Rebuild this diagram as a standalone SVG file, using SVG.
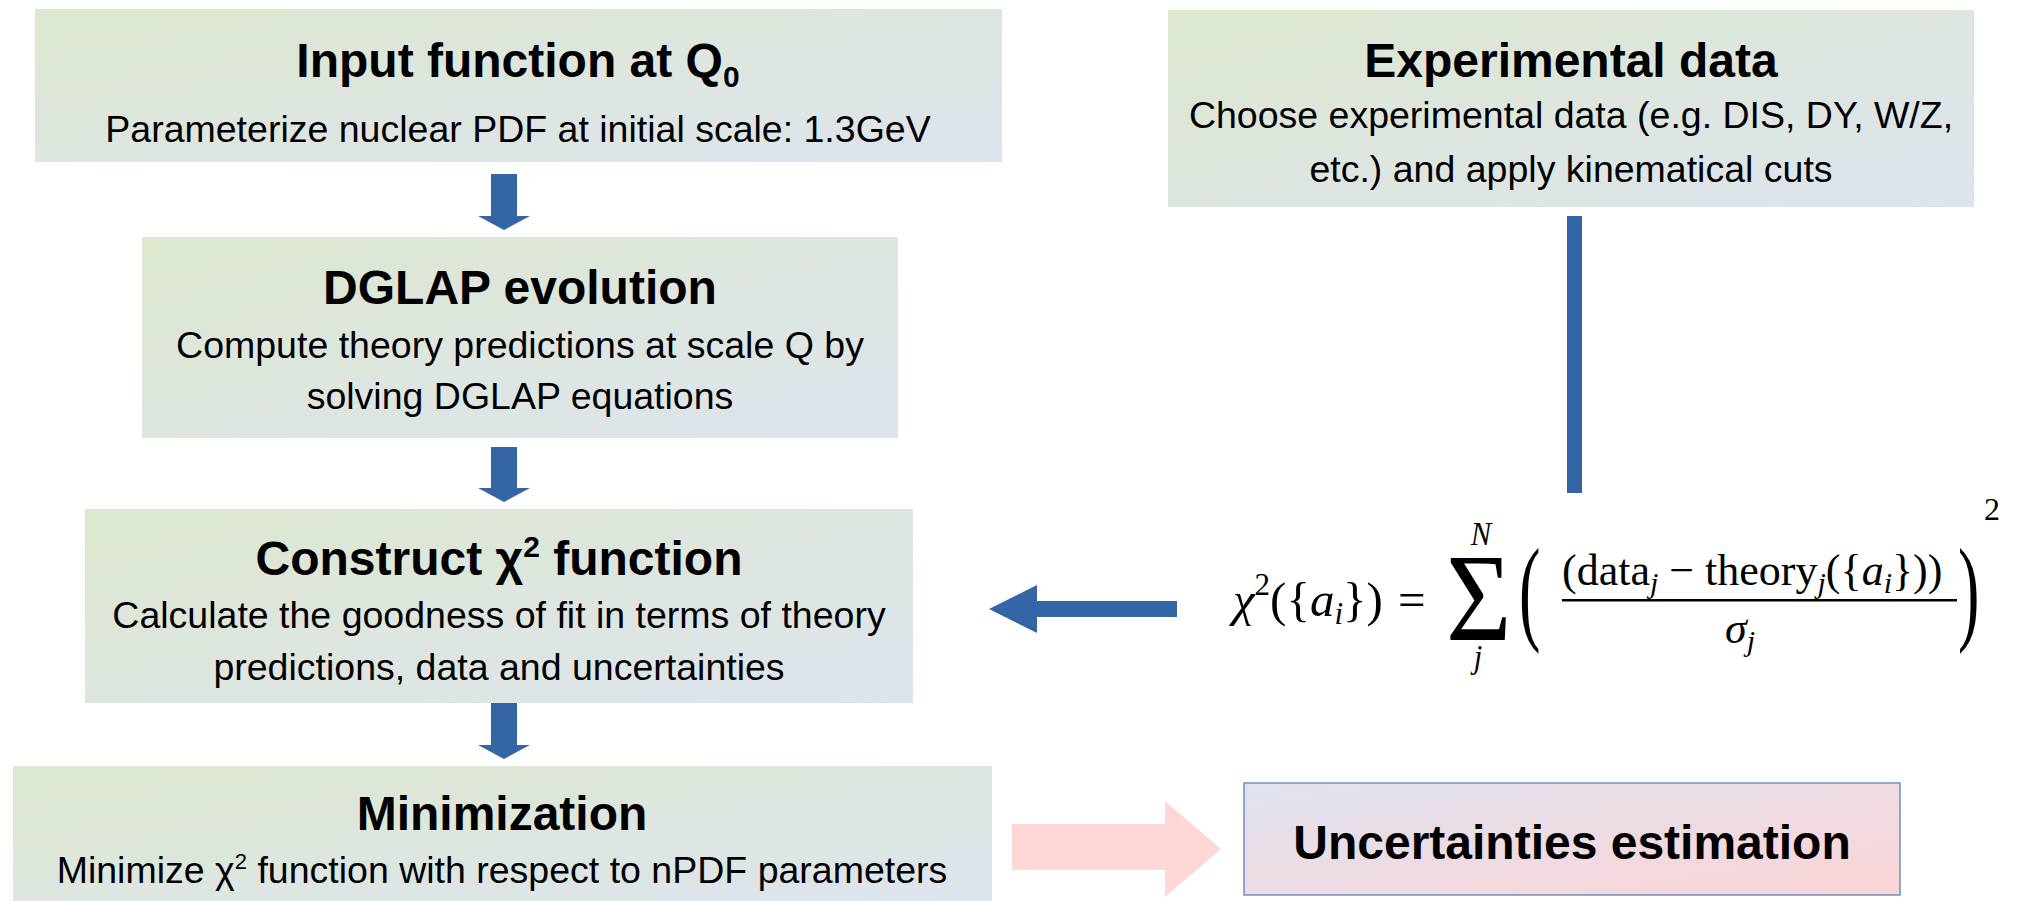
<svg xmlns="http://www.w3.org/2000/svg" width="2019" height="901" viewBox="0 0 2019 901">
<defs>
<linearGradient id="gBox" x1="0" y1="0" x2="1" y2="1">
<stop offset="0" stop-color="#dce7cd"/>
<stop offset="0.5" stop-color="#dee6df"/>
<stop offset="1" stop-color="#dde4ee"/>
</linearGradient>
<linearGradient id="gPink" x1="0" y1="0" x2="1" y2="1">
<stop offset="0" stop-color="#e0e3ef"/>
<stop offset="1" stop-color="#fbd4d6"/>
</linearGradient>
<style>
.box{fill:url(#gBox);}
.t{font-family:"Liberation Sans",Arial,sans-serif;font-weight:bold;font-size:48px;fill:#000;text-anchor:middle;}
.s{font-family:"Liberation Sans",Arial,sans-serif;font-size:37.5px;fill:#000;text-anchor:middle;}
.blue{fill:#3465a4;}
.m{font-family:"Liberation Serif","Times New Roman",serif;fill:#000;}
.mi{font-style:italic;}
</style>
</defs>
<rect width="2019" height="901" fill="#ffffff"/>

<g id="input">
<rect class="box" x="35" y="9" width="967" height="153"/>
<text class="t" x="518" y="77">Input function at Q<tspan font-size="30" dy="10">0</tspan></text>
<text class="s" x="518" y="142">Parameterize nuclear PDF at initial scale: 1.3GeV</text>
</g>

<g id="experimental">
<rect class="box" x="1168" y="10" width="806" height="197"/>
<text class="t" x="1571" y="77">Experimental data</text>
<text class="s" x="1571" y="128">Choose experimental data (e.g. DIS, DY, W/Z,</text>
<text class="s" x="1571" y="182">etc.) and apply kinematical cuts</text>
</g>

<g id="dglap">
<rect class="box" x="142" y="237" width="756" height="201"/>
<text class="t" x="520" y="304">DGLAP evolution</text>
<text class="s" x="520" y="358">Compute theory predictions at scale Q by</text>
<text class="s" x="520" y="409">solving DGLAP equations</text>
</g>

<g id="chi2">
<rect class="box" x="85" y="509" width="828" height="194"/>
<text class="t" x="499" y="575">Construct χ<tspan font-size="30" dy="-18">2</tspan><tspan dy="18"> function</tspan></text>
<text class="s" x="499" y="628">Calculate the goodness of fit in terms of theory</text>
<text class="s" x="499" y="680">predictions, data and uncertainties</text>
</g>

<g id="minimization">
<rect class="box" x="13" y="766" width="979" height="135"/>
<text class="t" x="502" y="830">Minimization</text>
<text class="s" x="502" y="883">Minimize χ<tspan font-size="22" dy="-14">2</tspan><tspan dy="14"> function with respect to nPDF parameters</tspan></text>
</g>

<g id="uncertainties">
<rect x="1244" y="783" width="656" height="112" fill="url(#gPink)" stroke="#6f8fc7" stroke-width="1.5"/>
<text class="t" x="1572" y="859">Uncertainties estimation</text>
</g>

<g id="formula">
<text class="m" x="1233" y="616" font-size="49"><tspan class="mi">χ</tspan><tspan font-size="31" dy="-21">2</tspan><tspan dy="21">({</tspan><tspan class="mi">a</tspan><tspan class="mi" font-size="31" dy="8">i</tspan><tspan dy="-8">})</tspan></text>
<text class="m" x="1398" y="616" font-size="49">=</text>
<text class="m" transform="translate(1446,640) scale(0.9,1)" font-size="125">Σ<tspan class="mi" font-size="34" x="27.6" y="-95">N</tspan><tspan class="mi" font-size="34" x="30.9" y="28">j</tspan></text>
<text class="m" transform="translate(1519,629) scale(0.55,1)" font-size="117">(</text>
<text class="m" x="1562" y="585" font-size="44">(data<tspan class="mi" font-size="30" dy="8">j</tspan><tspan dy="-8"> − theory</tspan><tspan class="mi" font-size="30" dy="8">j</tspan><tspan dy="-8">({</tspan><tspan class="mi">a</tspan><tspan class="mi" font-size="30" dy="8">i</tspan><tspan dy="-8">}))</tspan></text>
<rect x="1562" y="599" width="395" height="2.5" fill="#000"/>
<text class="m" x="1740" y="643" font-size="44" text-anchor="middle"><tspan class="mi">σ</tspan><tspan class="mi" font-size="30" dy="8">j</tspan></text>
<text class="m" transform="translate(1958,629) scale(0.55,1)" font-size="117">)</text>
<text class="m" x="1984" y="520" font-size="32">2</text>
</g>

<g id="connectors">
<polygon class="blue" points="491,174 517,174 517,216 530,216 504,230 478,216 491,216"/>
<polygon class="blue" points="491,447 517,447 517,488 530,488 504,502 478,488 491,488"/>
<polygon class="blue" points="491,703 517,703 517,745 530,745 504,759 478,745 491,745"/>
<rect class="blue" x="1567" y="216" width="15" height="277"/>
<polygon class="blue" points="989,609 1037,585 1037,601 1177,601 1177,617 1037,617 1037,633"/>
<polygon fill="#ffd7d7" points="1012,824 1165,824 1165,801 1221,849 1165,897 1165,870 1012,870"/>
</g>
</svg>
